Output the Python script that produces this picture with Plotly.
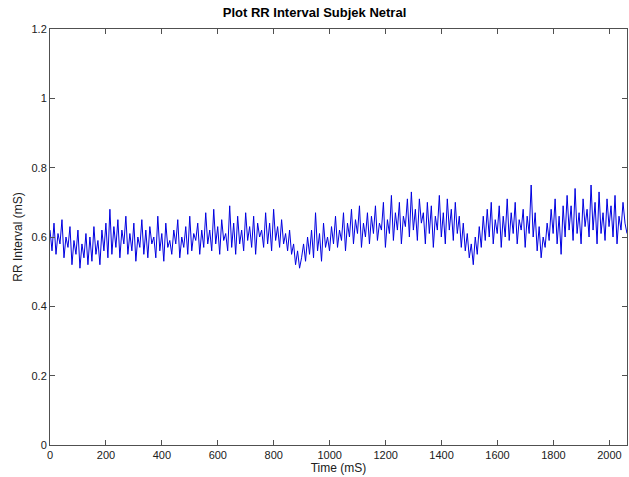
import numpy as np
import plotly.graph_objects as go

# RR interval values (s), in time order
rr_interval = [
    0.62,0.56,0.64,0.55,0.61,0.58,0.65,0.54,0.60,0.57,
    0.63,0.52,0.59,0.55,0.62,0.51,0.58,0.54,0.61,0.52,
    0.60,0.53,0.63,0.55,0.59,0.52,0.62,0.56,0.64,0.54,
    0.68,0.55,0.63,0.57,0.65,0.54,0.62,0.58,0.66,0.55,
    0.61,0.56,0.64,0.53,0.60,0.57,0.65,0.55,0.62,0.54,
    0.63,0.58,0.60,0.54,0.66,0.56,0.61,0.53,0.64,0.57,
    0.59,0.55,0.62,0.58,0.65,0.54,0.60,0.57,0.63,0.55,
    0.66,0.56,0.61,0.59,0.64,0.55,0.62,0.57,0.67,0.58,
    0.62,0.56,0.68,0.58,0.63,0.55,0.65,0.59,0.61,0.56,
    0.69,0.57,0.64,0.55,0.66,0.58,0.62,0.56,0.67,0.59,
    0.63,0.57,0.66,0.55,0.64,0.60,0.62,0.57,0.67,0.58,
    0.64,0.56,0.68,0.59,0.63,0.57,0.65,0.58,0.61,0.56,
    0.62,0.55,0.58,0.52,0.56,0.51,0.54,0.58,0.53,0.60,
    0.55,0.62,0.54,0.67,0.56,0.61,0.53,0.64,0.57,0.60,
    0.56,0.63,0.58,0.66,0.57,0.62,0.59,0.67,0.56,0.64,
    0.60,0.68,0.58,0.65,0.61,0.69,0.57,0.64,0.60,0.67,
    0.58,0.66,0.61,0.69,0.59,0.64,0.62,0.70,0.57,0.65,
    0.61,0.72,0.59,0.67,0.62,0.70,0.58,0.66,0.63,0.71,
    0.60,0.73,0.62,0.68,0.59,0.71,0.64,0.67,0.58,0.70,
    0.61,0.69,0.57,0.66,0.62,0.72,0.60,0.67,0.58,0.71,
    0.62,0.68,0.59,0.70,0.61,0.66,0.57,0.64,0.56,0.61,
    0.54,0.58,0.52,0.60,0.55,0.63,0.57,0.66,0.59,0.68,
    0.60,0.70,0.58,0.65,0.61,0.69,0.57,0.66,0.60,0.71,
    0.59,0.67,0.61,0.70,0.58,0.65,0.62,0.68,0.57,0.66,
    0.61,0.75,0.60,0.67,0.56,0.63,0.54,0.60,0.57,0.64,
    0.59,0.68,0.61,0.71,0.58,0.66,0.55,0.69,0.60,0.72,
    0.62,0.69,0.59,0.74,0.61,0.67,0.58,0.71,0.63,0.68,
    0.60,0.75,0.62,0.70,0.58,0.73,0.61,0.67,0.59,0.71,
    0.63,0.69,0.60,0.72,0.58,0.66,0.62,0.70,0.64,0.61,
]
time_end = 2063
time_ms = np.linspace(0, time_end, len(rr_interval))

x_ticks = [0, 200, 400, 600, 800, 1000, 1200, 1400, 1600, 1800, 2000]
y_ticks = [0, 0.2, 0.4, 0.6, 0.8, 1.0, 1.2]
y_tick_labels = ["0", "0.2", "0.4", "0.6", "0.8", "1", "1.2"]

title_text = "Plot RR Interval Subjek Netral"
x_label = "Time (mS)"
y_label = "RR Interval (mS)"

fig = go.Figure()
fig.add_trace(go.Scatter(
    x=time_ms, y=rr_interval, mode="lines",
    line=dict(color="#0000E0", width=1), showlegend=False,
))

axis_common = dict(
    showgrid=False, zeroline=False, showline=True, linecolor="#505050",
    linewidth=1, mirror="ticks", ticks="inside", ticklen=5,
    tickcolor="#505050", tickfont=dict(family="Liberation Sans, Arial", size=11, color="#202020"),
)

fig.update_layout(
    width=629, height=477,
    margin=dict(l=50, r=2, t=29, b=32),
    paper_bgcolor="white", plot_bgcolor="white",
    title=dict(text="<b>" + title_text + "</b>", x=0.5, xanchor="center",
               y=1 - 12 / 477, yanchor="middle", yref="container",
               font=dict(family="Liberation Sans, Arial", size=13, color="black")),
    xaxis=dict(range=[0, time_end], tickvals=x_ticks,
               title=dict(text=x_label, standoff=2,
                          font=dict(family="Liberation Sans, Arial", size=12, color="#202020")),
               **axis_common),
    yaxis=dict(range=[0, 1.2], tickvals=y_ticks, ticktext=y_tick_labels,
               title=dict(text=y_label, standoff=6,
                          font=dict(family="Liberation Sans, Arial", size=12, color="#202020")),
               **axis_common),
)

fig.write_html("out.html")
